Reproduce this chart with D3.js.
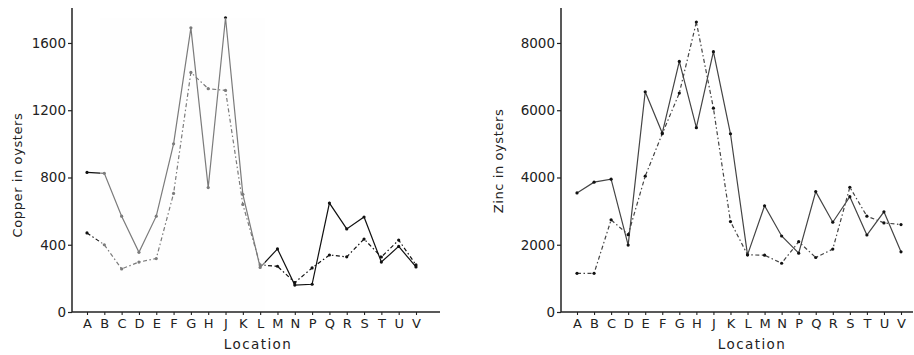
<!DOCTYPE html>
<html>
<head>
<meta charset="utf-8">
<script src="https://cdn.jsdelivr.net/npm/d3@7"></script>
<style>
  body { margin: 0; background: #fff; }
  svg { display: block; font-family: "DejaVu Sans", sans-serif; }
</style>
</head>
<body>
<svg id="chart" width="914" height="355"></svg>
<script>
const locations = ['A', 'B', 'C', 'D', 'E', 'F', 'G', 'H', 'J', 'K', 'L', 'M', 'N', 'P', 'Q', 'R', 'S', 'T', 'U', 'V'];

// copper, two surveys
const copperSolid = [830, 825, 570, 355, 570, 1000, 1690, 740, 1750, 700, 265, 375, 160, 165, 648, 494, 565, 297, 390, 268];
const copperDashed = [470, 400, 256, 297, 318, 705, 1425, 1328, 1318, 640, 280, 272, 175, 262, 339, 328, 434, 327, 428, 280];
const copperTicks = [0, 400, 800, 1200, 1600];

// zinc, two surveys
const zincSolid = [3540, 3860, 3950, 1990, 6550, 5320, 7450, 5480, 7740, 5300, 1700, 3160, 2260, 1750, 3580, 2670, 3430, 2290, 2980, 1790];
const zincDashed = [1150, 1150, 2740, 2300, 4040, 5300, 6510, 8620, 6060, 2690, 1700, 1690, 1450, 2090, 1620, 1870, 3710, 2850, 2650, 2600];
const zincTicks = [0, 2000, 4000, 6000, 8000];

const svg = d3.select('#chart');

const drawPanel = (opts) => {
  const g = svg.append('g');
  const y = d3.scaleLinear().domain([0, opts.yMax]).range([312, 8]);
  const x = d3.scalePoint().domain(locations).range(opts.xRange);

  const line = d3.line()
    .x((d, i) => x(locations[i]))
    .y(d => y(d));

  const series = [
    { values: opts.solid, dash: null },
    { values: opts.dashed, dash: '4,2.5,1.5,2.5' }
  ];

  series.forEach(s => {
    g.append('path')
      .attr('d', line(s.values))
      .attr('fill', 'none')
      .attr('stroke', opts.lineColor)
      .attr('stroke-width', 1.2)
      .attr('stroke-dasharray', s.dash);
    g.selectAll(null)
      .data(s.values)
      .enter()
      .append('circle')
      .attr('cx', (d, i) => x(locations[i]))
      .attr('cy', d => y(d))
      .attr('r', 1.6)
      .attr('fill', '#111');
  });

  // faded patch from the scanned original
  if (opts.fade) {
    g.append('rect')
      .attr('x', opts.fade[0])
      .attr('y', 18)
      .attr('width', opts.fade[1] - opts.fade[0])
      .attr('height', 292)
      .attr('fill', '#fcfcfc')
      .attr('opacity', 0.45);
  }

  // axes
  const yAxis = d3.axisLeft(y)
    .tickValues(opts.ticks)
    .tickFormat(d3.format('d'))
    .tickSize(4)
    .tickPadding(2);
  const ya = g.append('g')
    .attr('transform', `translate(${opts.axisX},0)`)
    .call(yAxis);
  ya.select('.domain').remove();
  ya.selectAll('text')
    .attr('font-size', 13.5)
    .attr('fill', '#222')
    .attr('font-family', '"DejaVu Sans", sans-serif');
  ya.selectAll('line').attr('stroke', '#222').attr('stroke-width', 1.2);

  const xAxis = d3.axisBottom(x).tickSize(3).tickPadding(4);
  const xa = g.append('g')
    .attr('transform', 'translate(0,312)')
    .call(xAxis);
  xa.select('.domain').remove();
  xa.selectAll('text')
    .attr('font-size', 13)
    .attr('fill', '#222')
    .attr('font-family', '"DejaVu Sans", sans-serif');
  xa.selectAll('line').attr('stroke', '#222').attr('stroke-width', 1.1);

  g.append('line')
    .attr('x1', opts.axisX).attr('x2', opts.axisX)
    .attr('y1', 8).attr('y2', 312)
    .attr('stroke', '#222').attr('stroke-width', 1.5);
  g.append('line')
    .attr('x1', opts.axisX).attr('x2', opts.axisEnd)
    .attr('y1', 312).attr('y2', 312)
    .attr('stroke', '#222').attr('stroke-width', 1.5);

  g.append('text')
    .attr('x', opts.titleX)
    .attr('y', 349)
    .attr('text-anchor', 'middle')
    .attr('font-size', 13.5)
    .attr('letter-spacing', 1.4)
    .attr('fill', '#222')
    .text('Location');

  g.append('text')
    .attr('transform', `translate(${opts.labelPos[0]},${opts.labelPos[1]}) rotate(-90)`)
    .attr('text-anchor', 'middle')
    .attr('dominant-baseline', 'middle')
    .attr('font-size', 13)
    .attr('letter-spacing', 0.6)
    .attr('fill', '#222')
    .text(opts.label);
};

drawPanel({
  solid: copperSolid,
  dashed: copperDashed,
  ticks: copperTicks,
  yMax: 1808,
  xRange: [87, 416],
  axisX: 72,
  axisEnd: 440,
  titleX: 258,
  label: 'Copper in oysters',
  labelPos: [18, 175],
  lineColor: '#111',
  fade: [100, 265]
});

drawPanel({
  solid: zincSolid,
  dashed: zincDashed,
  ticks: zincTicks,
  yMax: 9040,
  xRange: [577, 901],
  axisX: 561,
  axisEnd: 913,
  titleX: 752,
  label: 'Zinc in oysters',
  labelPos: [499, 161],
  lineColor: '#444',
  fade: null
});
</script>
</body>
</html>
